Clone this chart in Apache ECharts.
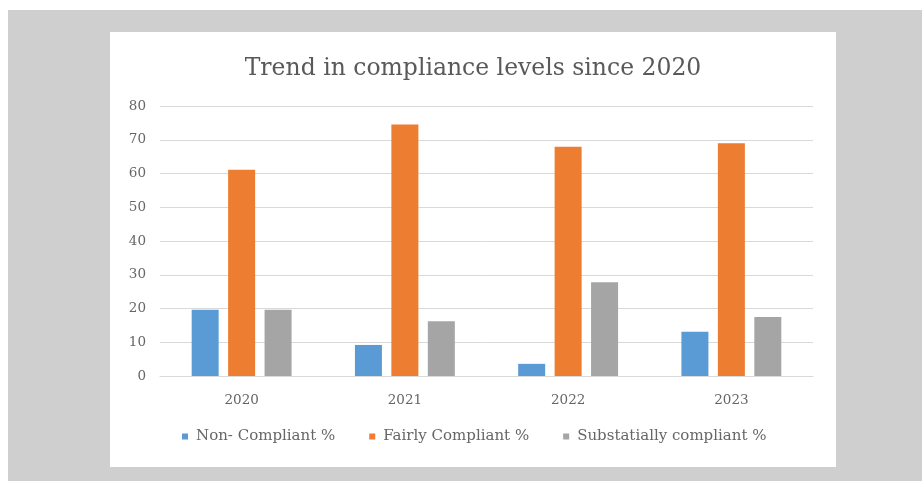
<!DOCTYPE html>
<html>
<head>
<meta charset="utf-8">
<script src="https://cdn.jsdelivr.net/npm/echarts@6/dist/echarts.min.js"></script>
<style>
html,body{margin:0;padding:0;background:#fff;}
#chart{width:922px;height:481px;}
</style>
</head>
<body>
<div id="chart"></div>
<script>
const categories = ['2020', '2021', '2022', '2023'];
const nonCompliant = [19.6, 9.2, 3.6, 13.1];
const fairlyCompliant = [61.1, 74.5, 67.9, 69];
const substantiallyCompliant = [19.6, 16.2, 27.8, 17.5];
const seriesNames = ['Non- Compliant %', 'Fairly Compliant %', 'Substatially compliant %'];
const yTicks = [0, 10, 20, 30, 40, 50, 60, 70, 80];

const chart = echarts.init(document.getElementById('chart'));
const font = '"DejaVu Serif", "Liberation Serif", serif';
const txt = '#595959';
chart.setOption({
  animation: false,
  graphic: [
    { type: 'rect', z: -10, silent: true, shape: { x: 8, y: 10, width: 914, height: 471 }, style: { fill: '#cfcfcf' } },
    { type: 'rect', z: -9, silent: true, shape: { x: 110, y: 32, width: 726, height: 435 }, style: { fill: '#ffffff' } }
  ],
  title: {
    text: 'Trend in compliance levels since 2020',
    left: 468, top: 52, textAlign: 'center',
    textStyle: { fontFamily: font, fontSize: 23.5, fontWeight: 'normal', color: txt }
  },
  legend: {
    bottom: 32, left: 177, itemWidth: 6, itemHeight: 6, itemGap: 34,
    icon: 'rect',
    textStyle: { fontFamily: font, fontSize: 15, color: '#666666', padding: [0, 0, 0, 3] },
    data: seriesNames
  },
  grid: { left: 160, right: 109, top: 106, bottom: 105 },
  xAxis: {
    type: 'category', data: categories,
    axisLine: { lineStyle: { color: '#d9d9d9' } },
    axisTick: { show: false },
    axisLabel: { fontFamily: font, fontSize: 13.5, color: '#666666', margin: 17 }
  },
  yAxis: {
    type: 'value', min: 0, max: 80, interval: 10,
    axisLine: { show: false }, axisTick: { show: false },
    splitLine: { lineStyle: { color: '#d9d9d9' } },
    axisLabel: { fontFamily: font, fontSize: 13.5, color: '#666666', margin: 14,
      formatter: v => yTicks.includes(v) ? String(v) : '' }
  },
  series: [
    { name: seriesNames[0], type: 'bar', data: nonCompliant, itemStyle: { color: '#5b9bd5' }, barWidth: 27, barGap: '35%' },
    { name: seriesNames[1], type: 'bar', data: fairlyCompliant, itemStyle: { color: '#ed7d31' }, barWidth: 27, barGap: '35%' },
    { name: seriesNames[2], type: 'bar', data: substantiallyCompliant, itemStyle: { color: '#a5a5a5' }, barWidth: 27, barGap: '35%' }
  ]
});
</script>
</body>
</html>
